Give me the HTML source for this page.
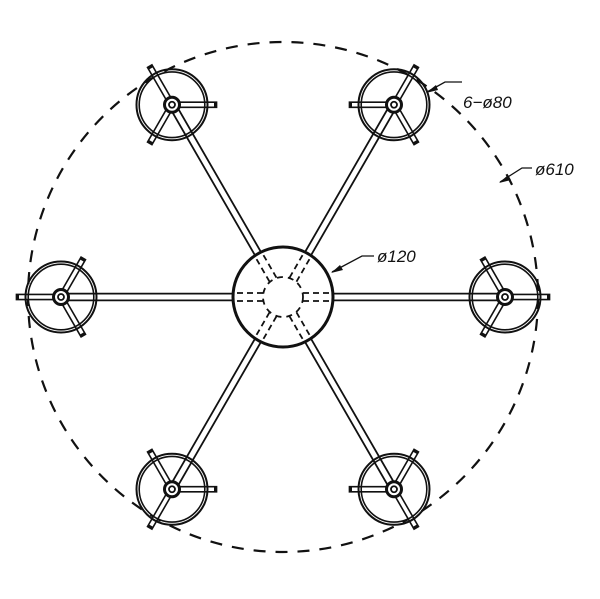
<!DOCTYPE html>
<html><head><meta charset="utf-8"><style>
html,body{margin:0;padding:0;background:#fff;}
svg{display:block}
text{font-family:"Liberation Sans",sans-serif;font-style:italic;font-size:17px;fill:#111}
</style></head><body>
<svg width="600" height="599" viewBox="0 0 600 599" xmlns="http://www.w3.org/2000/svg">
<circle cx="283" cy="297" r="255" fill="none" stroke="#111" stroke-width="2.2" stroke-dasharray="12 10"/>
<script>
(function(){
var NS="http://www.w3.org/2000/svg",svg=document.querySelector('svg');
function el(n,a){var e=document.createElementNS(NS,n);for(var k in a)e.setAttribute(k,a[k]);svg.appendChild(e);return e;}
var cx=283,cy=297,R=222;
var nodes=[[240,0],[300,60],[0,0],[180,60],[120,0],[60,60]];
function dbl(x1,y1,x2,y2,w,t){
 el('line',{x1:x1,y1:y1,x2:x2,y2:y2,stroke:'#111','stroke-width':w+2*t,'stroke-linecap':'square'});
 el('line',{x1:x1,y1:y1,x2:x2,y2:y2,stroke:'#fff','stroke-width':w,'stroke-linecap':'butt'});
}
var d=Math.PI/180;
nodes.forEach(function(n){
 var a=n[0]*d,nx=cx+R*Math.cos(a),ny=cy+R*Math.sin(a);
 dbl(cx+40*Math.cos(a),cy+40*Math.sin(a),nx,ny,5,1.8);
 for(var k=0;k<3;k++){var b=(n[1]+120*k)*d;dbl(nx,ny,nx+42*Math.cos(b),ny+42*Math.sin(b),3.5,1.6);}
});
nodes.forEach(function(n){
 var a=n[0]*d,nx=cx+R*Math.cos(a),ny=cy+R*Math.sin(a);
 el('circle',{cx:nx,cy:ny,r:35.5,fill:'none',stroke:'#111','stroke-width':2});
 el('circle',{cx:nx,cy:ny,r:32.8,fill:'none',stroke:'#111','stroke-width':1.6});
 el('circle',{cx:nx,cy:ny,r:7.5,fill:'#fff',stroke:'#111','stroke-width':3});
 el('circle',{cx:nx,cy:ny,r:3,fill:'#fff',stroke:'#111','stroke-width':1.8});
});
el('circle',{cx:cx,cy:cy,r:50,fill:'#fff',stroke:'#111','stroke-width':3});
el('circle',{cx:cx,cy:cy,r:20,fill:'none',stroke:'#111','stroke-width':1.8,'stroke-dasharray':'6 5'});
nodes.forEach(function(n){
 var a=n[0]*d,c=Math.cos(a),s=Math.sin(a);
 [-4,4].forEach(function(o){
  var px=-s*o,py=c*o;
  el('line',{x1:cx+20*c+px,y1:cy+20*s+py,x2:cx+49*c+px,y2:cy+49*s+py,stroke:'#111','stroke-width':1.8,'stroke-dasharray':'6 4'});
 });
});
function lead(pts){el('polyline',{points:pts,fill:'none',stroke:'#111','stroke-width':1.3});}
lead('462,82 445,82 427,92');el('polygon',{points:'426,93 436,85 438,90',fill:'#111'});
lead('532,168 522,168 500,182');el('polygon',{points:'499,183 508,175 511,180',fill:'#111'});
lead('374,256 362,256 332,272');el('polygon',{points:'331,273 340,265 343,270',fill:'#111'});
})();
</script>
<text x="463" y="108">6−ø80</text>
<text x="535" y="175">ø610</text>
<text x="377" y="262">ø120</text>
</svg>
</body></html>
